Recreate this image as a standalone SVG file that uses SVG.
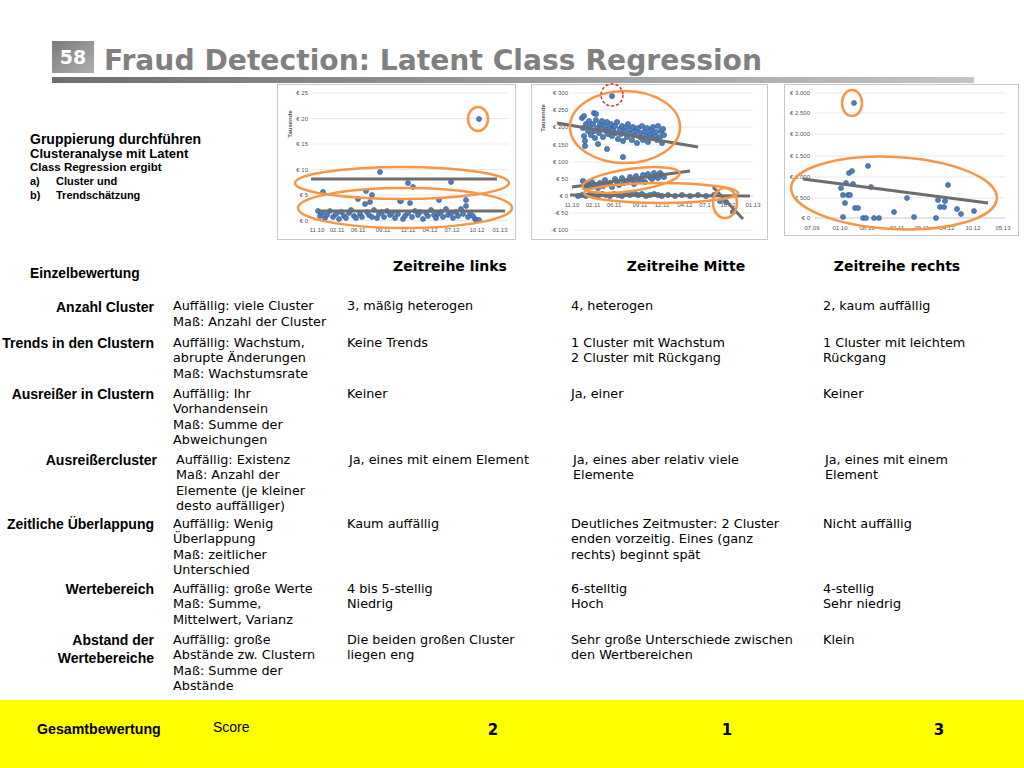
<svg xmlns="http://www.w3.org/2000/svg" width="1024" height="768" viewBox="0 0 1024 768">
<defs>
<linearGradient id="gbar" x1="0" y1="0" x2="1" y2="0"><stop offset="0" stop-color="#6e6e6e"/><stop offset="1" stop-color="#c4c4c4"/></linearGradient>
<linearGradient id="gnum" x1="0" y1="0" x2="1" y2="1"><stop offset="0" stop-color="#7a7a7a"/><stop offset="1" stop-color="#b0b0b0"/></linearGradient>
</defs>
<style>
.frame{fill:#fff;stroke:#c8c8c8;stroke-width:1}
.grid{stroke:#e2e2e2;stroke-width:0.8}
.ax{font-family:"Liberation Sans",Arial,sans-serif;font-size:6px;fill:#555}
.pt{fill:#4f81bd;stroke:#2c5596;stroke-width:0.6}
.trend{stroke:#6d6d6d;stroke-width:3;fill:none;stroke-linecap:butt}
.ring{fill:none;stroke:#f79646;stroke-width:2.5}
.red{fill:none;stroke:#e03030;stroke-width:1.5;stroke-dasharray:3 2}
.lbl{font-family:"Liberation Sans",Arial,sans-serif;font-weight:bold;font-size:14px;fill:#000;text-anchor:end}
.v{font-family:"DejaVu Sans",Verdana,sans-serif;font-size:12.8px;fill:#000}
.hd{font-family:"DejaVu Sans",Verdana,sans-serif;font-weight:bold;font-size:14px;fill:#000;text-anchor:middle}
.ab{font-family:"Liberation Sans",Arial,sans-serif;font-weight:bold;fill:#000}
</style>
<rect width="1024" height="768" fill="#fff"/>

<g id="title">
<rect x="52" y="41" width="42" height="32" fill="url(#gnum)"/>
<text x="73" y="64" text-anchor="middle" font-family="DejaVu Sans,Verdana,sans-serif" font-weight="bold" font-size="19" fill="#fff">58</text>
<text x="104" y="70" font-family="DejaVu Sans,Verdana,sans-serif" font-weight="bold" font-size="28" fill="#808080" textLength="658" lengthAdjust="spacingAndGlyphs">Fraud Detection: Latent Class Regression</text>
<rect x="52" y="77" width="922" height="6" fill="url(#gbar)"/>
</g>

<g id="chart-left">
<rect class="frame" x="277.5" y="84.5" width="238" height="155"/>
<g class="grid">
<line x1="311" y1="93" x2="508" y2="93"/><line x1="311" y1="118.5" x2="508" y2="118.5"/><line x1="311" y1="144" x2="508" y2="144"/><line x1="311" y1="169.5" x2="508" y2="169.5"/><line x1="311" y1="195" x2="508" y2="195"/><line x1="311" y1="220.5" x2="508" y2="220.5"/>
</g>
<g class="ax" text-anchor="end">
<text x="308" y="95">€ 25</text><text x="308" y="120.5">€ 20</text><text x="308" y="146">€ 15</text><text x="308" y="171.5">€ 10</text><text x="308" y="197">€ 5</text><text x="308" y="222.5">€ 0</text>
</g>
<text class="ax" transform="translate(292,124) rotate(-90)" text-anchor="middle" font-weight="bold">Tausende</text>
<g class="ax" text-anchor="middle">
<text x="317" y="232">11.10</text><text x="337" y="232">02.11</text><text x="358" y="232">06.11</text><text x="383" y="232">09.11</text><text x="408" y="232">12.11</text><text x="430" y="232">04.12</text><text x="452" y="232">07.12</text><text x="477" y="232">10.12</text><text x="500" y="232">01.13</text>
</g>
<g>
<circle class="pt" r="2.5" cx="318" cy="211"/><circle class="pt" r="2.5" cx="320" cy="216"/><circle class="pt" r="2.5" cx="322" cy="213"/><circle class="pt" r="2.5" cx="325" cy="218"/><circle class="pt" r="2.5" cx="327" cy="215"/><circle class="pt" r="2.5" cx="330" cy="211"/><circle class="pt" r="2.5" cx="333" cy="217"/><circle class="pt" r="2.5" cx="336" cy="214"/><circle class="pt" r="2.5" cx="339" cy="219"/><circle class="pt" r="2.5" cx="341" cy="212"/><circle class="pt" r="2.5" cx="344" cy="216"/><circle class="pt" r="2.5" cx="346" cy="218"/><circle class="pt" r="2.5" cx="349" cy="213"/><circle class="pt" r="2.5" cx="351" cy="210"/><circle class="pt" r="2.5" cx="354" cy="216"/><circle class="pt" r="2.5" cx="356" cy="218"/><circle class="pt" r="2.5" cx="358" cy="199"/><circle class="pt" r="2.5" cx="360" cy="214"/><circle class="pt" r="2.5" cx="362" cy="217"/><circle class="pt" r="2.5" cx="365" cy="204"/><circle class="pt" r="2.5" cx="367" cy="212"/><circle class="pt" r="2.5" cx="369" cy="215"/><circle class="pt" r="2.5" cx="372" cy="217"/><circle class="pt" r="2.5" cx="374" cy="210"/><circle class="pt" r="2.5" cx="377" cy="218"/><circle class="pt" r="2.5" cx="379" cy="214"/><circle class="pt" r="2.5" cx="382" cy="212"/><circle class="pt" r="2.5" cx="384" cy="217"/><circle class="pt" r="2.5" cx="387" cy="211"/><circle class="pt" r="2.5" cx="390" cy="215"/><circle class="pt" r="2.5" cx="392" cy="213"/><circle class="pt" r="2.5" cx="395" cy="218"/><circle class="pt" r="2.5" cx="398" cy="214"/><circle class="pt" r="2.5" cx="400" cy="201"/><circle class="pt" r="2.5" cx="403" cy="219"/><circle class="pt" r="2.5" cx="405" cy="216"/><circle class="pt" r="2.5" cx="408" cy="213"/><circle class="pt" r="2.5" cx="410" cy="203"/><circle class="pt" r="2.5" cx="412" cy="217"/><circle class="pt" r="2.5" cx="415" cy="211"/><circle class="pt" r="2.5" cx="418" cy="215"/><circle class="pt" r="2.5" cx="420" cy="212"/><circle class="pt" r="2.5" cx="423" cy="219"/><circle class="pt" r="2.5" cx="426" cy="213"/><circle class="pt" r="2.5" cx="428" cy="216"/><circle class="pt" r="2.5" cx="431" cy="210"/><circle class="pt" r="2.5" cx="434" cy="215"/><circle class="pt" r="2.5" cx="436" cy="218"/><circle class="pt" r="2.5" cx="438" cy="214"/><circle class="pt" r="2.5" cx="441" cy="212"/><circle class="pt" r="2.5" cx="443" cy="217"/><circle class="pt" r="2.5" cx="446" cy="209"/><circle class="pt" r="2.5" cx="448" cy="215"/><circle class="pt" r="2.5" cx="451" cy="213"/><circle class="pt" r="2.5" cx="453" cy="218"/><circle class="pt" r="2.5" cx="456" cy="212"/><circle class="pt" r="2.5" cx="458" cy="216"/><circle class="pt" r="2.5" cx="461" cy="209"/><circle class="pt" r="2.5" cx="463" cy="214"/><circle class="pt" r="2.5" cx="466" cy="206"/><circle class="pt" r="2.5" cx="468" cy="217"/><circle class="pt" r="2.5" cx="470" cy="213"/><circle class="pt" r="2.5" cx="473" cy="216"/><circle class="pt" r="2.5" cx="475" cy="219"/><circle class="pt" r="2.5" cx="477" cy="220"/><circle class="pt" r="2.5" cx="479" cy="220"/>
<circle class="pt" r="2.5" cx="380" cy="172"/><circle class="pt" r="2.5" cx="408" cy="183"/><circle class="pt" r="2.5" cx="413" cy="187"/><circle class="pt" r="2.5" cx="451" cy="182"/><circle class="pt" r="2.5" cx="323" cy="192"/><circle class="pt" r="2.5" cx="366" cy="191"/><circle class="pt" r="2.5" cx="372" cy="195"/><circle class="pt" r="2.5" cx="401" cy="201"/><circle class="pt" r="2.5" cx="439" cy="200"/><circle class="pt" r="2.5" cx="466" cy="200"/><circle class="pt" r="2.5" cx="370" cy="202"/><circle class="pt" r="2.5" cx="479" cy="119"/>
</g>
<line class="trend" x1="311" y1="179" x2="497" y2="179"/>
<line class="trend" x1="318" y1="211" x2="505" y2="211"/>
<ellipse class="ring" cx="402" cy="183" rx="107" ry="16"/>
<ellipse class="ring" cx="405" cy="208" rx="107" ry="20"/>
<ellipse class="ring" cx="478" cy="119" rx="10" ry="12"/>
</g>

<g id="chart-middle">
<rect class="frame" x="531.5" y="84.5" width="236" height="155"/>
<g class="grid">
<line x1="573" y1="93" x2="753" y2="93"/><line x1="573" y1="110" x2="753" y2="110"/><line x1="573" y1="127" x2="753" y2="127"/><line x1="573" y1="145" x2="753" y2="145"/><line x1="573" y1="162" x2="753" y2="162"/><line x1="573" y1="179" x2="753" y2="179"/><line x1="573" y1="196" x2="753" y2="196" stroke="#bbb"/><line x1="573" y1="213" x2="753" y2="213"/><line x1="573" y1="230" x2="753" y2="230"/>
</g>
<g class="ax" text-anchor="end">
<text x="568" y="95">€ 300</text><text x="568" y="112">€ 250</text><text x="568" y="129">€ 200</text><text x="568" y="147">€ 150</text><text x="568" y="164">€ 100</text><text x="568" y="181">€ 50</text><text x="568" y="198">€ 0</text><text x="568" y="215">-€ 50</text><text x="568" y="232">-€ 100</text>
</g>
<text class="ax" transform="translate(545,118) rotate(-90)" text-anchor="middle" font-weight="bold">Tausende</text>
<g class="ax" text-anchor="middle">
<text x="572" y="207">11.10</text><text x="593" y="207">02.11</text><text x="614" y="207">06.11</text><text x="640" y="207">09.11</text><text x="662" y="207">12.11</text><text x="685" y="207">04.12</text><text x="705" y="207">07.1</text><text x="728" y="207">10.12</text><text x="753" y="207">01.13</text>
</g>
<g>
<circle class="pt" r="2.6" cx="582" cy="118"/><circle class="pt" r="2.6" cx="583" cy="128"/><circle class="pt" r="2.6" cx="584" cy="136"/><circle class="pt" r="2.6" cx="585" cy="141"/><circle class="pt" r="2.6" cx="586" cy="124"/><circle class="pt" r="2.6" cx="588" cy="131"/><circle class="pt" r="2.6" cx="589" cy="121"/><circle class="pt" r="2.6" cx="590" cy="127"/><circle class="pt" r="2.6" cx="591" cy="135"/><circle class="pt" r="2.6" cx="593" cy="124"/><circle class="pt" r="2.6" cx="594" cy="131"/><circle class="pt" r="2.6" cx="595" cy="138"/><circle class="pt" r="2.6" cx="596" cy="120"/><circle class="pt" r="2.6" cx="597" cy="128"/><circle class="pt" r="2.6" cx="599" cy="133"/><circle class="pt" r="2.6" cx="600" cy="124"/><circle class="pt" r="2.6" cx="601" cy="129"/><circle class="pt" r="2.6" cx="602" cy="121"/><circle class="pt" r="2.6" cx="603" cy="137"/><circle class="pt" r="2.6" cx="605" cy="126"/><circle class="pt" r="2.6" cx="606" cy="131"/><circle class="pt" r="2.6" cx="607" cy="122"/><circle class="pt" r="2.6" cx="608" cy="134"/><circle class="pt" r="2.6" cx="610" cy="128"/><circle class="pt" r="2.6" cx="611" cy="124"/><circle class="pt" r="2.6" cx="612" cy="136"/><circle class="pt" r="2.6" cx="613" cy="130"/><circle class="pt" r="2.6" cx="615" cy="126"/><circle class="pt" r="2.6" cx="616" cy="133"/><circle class="pt" r="2.6" cx="617" cy="122"/><circle class="pt" r="2.6" cx="618" cy="139"/><circle class="pt" r="2.6" cx="620" cy="129"/><circle class="pt" r="2.6" cx="621" cy="134"/><circle class="pt" r="2.6" cx="622" cy="126"/><circle class="pt" r="2.6" cx="623" cy="141"/><circle class="pt" r="2.6" cx="625" cy="131"/><circle class="pt" r="2.6" cx="626" cy="127"/><circle class="pt" r="2.6" cx="627" cy="137"/><circle class="pt" r="2.6" cx="628" cy="124"/><circle class="pt" r="2.6" cx="630" cy="133"/><circle class="pt" r="2.6" cx="631" cy="129"/><circle class="pt" r="2.6" cx="632" cy="140"/><circle class="pt" r="2.6" cx="633" cy="127"/><circle class="pt" r="2.6" cx="635" cy="135"/><circle class="pt" r="2.6" cx="636" cy="131"/><circle class="pt" r="2.6" cx="637" cy="143"/><circle class="pt" r="2.6" cx="638" cy="128"/><circle class="pt" r="2.6" cx="640" cy="137"/><circle class="pt" r="2.6" cx="641" cy="133"/><circle class="pt" r="2.6" cx="642" cy="126"/><circle class="pt" r="2.6" cx="643" cy="140"/><circle class="pt" r="2.6" cx="645" cy="131"/><circle class="pt" r="2.6" cx="646" cy="136"/><circle class="pt" r="2.6" cx="647" cy="128"/><circle class="pt" r="2.6" cx="648" cy="142"/><circle class="pt" r="2.6" cx="650" cy="134"/><circle class="pt" r="2.6" cx="651" cy="130"/><circle class="pt" r="2.6" cx="652" cy="138"/><circle class="pt" r="2.6" cx="653" cy="127"/><circle class="pt" r="2.6" cx="655" cy="135"/><circle class="pt" r="2.6" cx="656" cy="132"/><circle class="pt" r="2.6" cx="657" cy="140"/><circle class="pt" r="2.6" cx="658" cy="126"/><circle class="pt" r="2.6" cx="660" cy="137"/><circle class="pt" r="2.6" cx="661" cy="131"/><circle class="pt" r="2.6" cx="662" cy="143"/><circle class="pt" r="2.6" cx="663" cy="129"/><circle class="pt" r="2.6" cx="664" cy="135"/>
<circle class="pt" r="2.6" cx="584" cy="116"/><circle class="pt" r="2.6" cx="594" cy="113"/><circle class="pt" r="2.6" cx="596" cy="114"/><circle class="pt" r="2.6" cx="585" cy="146"/><circle class="pt" r="2.6" cx="598" cy="144"/><circle class="pt" r="2.6" cx="607" cy="149"/><circle class="pt" r="2.6" cx="623" cy="157"/><circle class="pt" r="2.6" cx="612" cy="96"/>
<circle class="pt" r="2.6" cx="583" cy="181"/><circle class="pt" r="2.6" cx="585" cy="186"/><circle class="pt" r="2.6" cx="587" cy="184"/><circle class="pt" r="2.6" cx="590" cy="187"/><circle class="pt" r="2.6" cx="592" cy="182"/><circle class="pt" r="2.6" cx="595" cy="185"/><circle class="pt" r="2.6" cx="598" cy="188"/><circle class="pt" r="2.6" cx="600" cy="183"/><circle class="pt" r="2.6" cx="603" cy="186"/><circle class="pt" r="2.6" cx="605" cy="180"/><circle class="pt" r="2.6" cx="607" cy="184"/><circle class="pt" r="2.6" cx="610" cy="183"/><circle class="pt" r="2.6" cx="612" cy="187"/><circle class="pt" r="2.6" cx="615" cy="179"/><circle class="pt" r="2.6" cx="617" cy="182"/><circle class="pt" r="2.6" cx="619" cy="185"/><circle class="pt" r="2.6" cx="622" cy="178"/><circle class="pt" r="2.6" cx="624" cy="183"/><circle class="pt" r="2.6" cx="627" cy="181"/><circle class="pt" r="2.6" cx="630" cy="177"/><circle class="pt" r="2.6" cx="632" cy="180"/><circle class="pt" r="2.6" cx="634" cy="184"/><circle class="pt" r="2.6" cx="636" cy="176"/><circle class="pt" r="2.6" cx="638" cy="181"/><circle class="pt" r="2.6" cx="641" cy="179"/><circle class="pt" r="2.6" cx="643" cy="175"/><circle class="pt" r="2.6" cx="645" cy="182"/><circle class="pt" r="2.6" cx="648" cy="174"/><circle class="pt" r="2.6" cx="650" cy="177"/><circle class="pt" r="2.6" cx="652" cy="179"/><circle class="pt" r="2.6" cx="654" cy="173"/><circle class="pt" r="2.6" cx="656" cy="176"/><circle class="pt" r="2.6" cx="658" cy="178"/><circle class="pt" r="2.6" cx="660" cy="173"/><circle class="pt" r="2.6" cx="662" cy="175"/><circle class="pt" r="2.6" cx="664" cy="177"/>
<circle class="pt" r="2.6" cx="578" cy="196"/><circle class="pt" r="2.6" cx="582" cy="195"/><circle class="pt" r="2.6" cx="586" cy="196"/><circle class="pt" r="2.6" cx="590" cy="194"/><circle class="pt" r="2.6" cx="594" cy="195"/><circle class="pt" r="2.6" cx="598" cy="196"/><circle class="pt" r="2.6" cx="602" cy="194"/><circle class="pt" r="2.6" cx="606" cy="195"/><circle class="pt" r="2.6" cx="610" cy="196"/><circle class="pt" r="2.6" cx="614" cy="194"/><circle class="pt" r="2.6" cx="618" cy="195"/><circle class="pt" r="2.6" cx="622" cy="196"/><circle class="pt" r="2.6" cx="626" cy="194"/><circle class="pt" r="2.6" cx="630" cy="195"/><circle class="pt" r="2.6" cx="634" cy="193"/><circle class="pt" r="2.6" cx="638" cy="195"/><circle class="pt" r="2.6" cx="642" cy="194"/><circle class="pt" r="2.6" cx="646" cy="196"/><circle class="pt" r="2.6" cx="650" cy="195"/><circle class="pt" r="2.6" cx="654" cy="194"/><circle class="pt" r="2.6" cx="658" cy="195"/><circle class="pt" r="2.6" cx="662" cy="196"/><circle class="pt" r="2.6" cx="668" cy="195"/><circle class="pt" r="2.6" cx="675" cy="196"/><circle class="pt" r="2.6" cx="682" cy="195"/><circle class="pt" r="2.6" cx="690" cy="196"/><circle class="pt" r="2.6" cx="698" cy="195"/><circle class="pt" r="2.6" cx="706" cy="196"/><circle class="pt" r="2.6" cx="714" cy="195"/>
<circle class="pt" r="2.6" cx="720" cy="201"/><circle class="pt" r="2.6" cx="726" cy="202"/><circle class="pt" r="2.6" cx="733" cy="212"/>
</g>
<line class="trend" x1="557" y1="123" x2="698" y2="147"/>
<line class="trend" x1="572" y1="187" x2="690" y2="171"/>
<line class="trend" x1="570" y1="195" x2="750" y2="196"/>
<line class="trend" x1="713" y1="187" x2="743" y2="219"/>
<ellipse class="ring" cx="625" cy="127" rx="55" ry="36"/>
<ellipse class="ring" cx="631" cy="180" rx="49" ry="11" transform="rotate(-8 631 180)"/>
<ellipse class="ring" cx="661" cy="193" rx="77" ry="10"/>
<ellipse class="ring" cx="725" cy="203" rx="12" ry="15"/>
<circle class="red" cx="612" cy="95" r="11"/>
</g>

<g id="chart-right">
<rect class="frame" x="784.5" y="84.5" width="234" height="151"/>
<g class="grid">
<line x1="815" y1="93" x2="1005" y2="93"/><line x1="815" y1="113" x2="1005" y2="113"/><line x1="815" y1="134" x2="1005" y2="134"/><line x1="815" y1="156" x2="1005" y2="156"/><line x1="815" y1="177" x2="1005" y2="177"/><line x1="815" y1="198" x2="1005" y2="198"/><line x1="815" y1="218" x2="1005" y2="218" stroke="#bbb"/>
</g>
<g class="ax" text-anchor="end">
<text x="810" y="95">€ 3.000</text><text x="810" y="115">€ 2.500</text><text x="810" y="136">€ 2.000</text><text x="810" y="158">€ 1.500</text><text x="810" y="179">€ 1.000</text><text x="810" y="200">€ 500</text><text x="810" y="220">€ 0</text>
</g>
<g class="ax" text-anchor="middle">
<text x="812" y="230">07.09</text><text x="840" y="230">01.10</text><text x="867" y="230">08.10</text><text x="897" y="230">02.11</text><text x="922" y="230">09.11</text><text x="947" y="230">04.12</text><text x="973" y="230">10.12</text><text x="1003" y="230">05.13</text>
</g>
<g>
<circle class="pt" r="2.5" cx="843" cy="217"/><circle class="pt" r="2.5" cx="841" cy="188"/><circle class="pt" r="2.5" cx="843" cy="195"/><circle class="pt" r="2.5" cx="845" cy="203"/><circle class="pt" r="2.5" cx="846" cy="183"/><circle class="pt" r="2.5" cx="848" cy="195"/><circle class="pt" r="2.5" cx="850" cy="195"/><circle class="pt" r="2.5" cx="849" cy="173"/><circle class="pt" r="2.5" cx="852" cy="171"/><circle class="pt" r="2.5" cx="853" cy="184"/><circle class="pt" r="2.5" cx="855" cy="208"/><circle class="pt" r="2.5" cx="858" cy="208"/><circle class="pt" r="2.5" cx="854" cy="103"/><circle class="pt" r="2.5" cx="863" cy="218"/><circle class="pt" r="2.5" cx="866" cy="218"/><circle class="pt" r="2.5" cx="868" cy="166"/><circle class="pt" r="2.5" cx="871" cy="187"/><circle class="pt" r="2.5" cx="874" cy="218"/><circle class="pt" r="2.5" cx="879" cy="218"/><circle class="pt" r="2.5" cx="894" cy="212"/><circle class="pt" r="2.5" cx="907" cy="198"/><circle class="pt" r="2.5" cx="914" cy="217"/><circle class="pt" r="2.5" cx="936" cy="218"/><circle class="pt" r="2.5" cx="938" cy="200"/><circle class="pt" r="2.5" cx="940" cy="207"/><circle class="pt" r="2.5" cx="944" cy="207"/><circle class="pt" r="2.5" cx="945" cy="201"/><circle class="pt" r="2.5" cx="948" cy="185"/><circle class="pt" r="2.5" cx="957" cy="209"/><circle class="pt" r="2.5" cx="961" cy="214"/><circle class="pt" r="2.5" cx="974" cy="211"/>
</g>
<line class="trend" x1="803" y1="179" x2="988" y2="203"/>
<ellipse class="ring" cx="894" cy="193" rx="103" ry="36" transform="rotate(3 894 193)"/>
<ellipse class="ring" cx="852" cy="103" rx="10" ry="13"/>
</g>

<g id="intro">
<text class="ab" x="30" y="144" font-size="14">Gruppierung durchführen</text>
<text class="ab" x="30" y="158" font-size="13">Clusteranalyse mit Latent</text>
<text class="ab" x="30" y="171" font-size="11.5">Class Regression ergibt</text>
<text class="ab" x="30" y="185" font-size="11">a)</text><text class="ab" x="56" y="185" font-size="11">Cluster und</text>
<text class="ab" x="30" y="199" font-size="11">b)</text><text class="ab" x="56" y="199" font-size="11">Trendschätzung</text>
</g>

<g id="header">
<text class="ab" x="30" y="278" font-size="13.8">Einzelbewertung</text>
<text class="hd" x="450" y="271">Zeitreihe links</text>
<text class="hd" x="686" y="271">Zeitreihe Mitte</text>
<text class="hd" x="897" y="271">Zeitreihe rechts</text>
</g>

<g id="row-anzahl">
<text class="lbl" x="154" y="312">Anzahl Cluster</text>
<text class="v" x="173" y="310">Auffällig: viele Cluster</text><text class="v" x="173" y="326">Maß: Anzahl der Cluster</text>
<text class="v" x="347" y="310">3, mäßig heterogen</text>
<text class="v" x="571" y="310">4, heterogen</text>
<text class="v" x="823" y="310">2, kaum auffällig</text>
</g>
<g id="row-trends">
<text class="lbl" x="154" y="348">Trends in den Clustern</text>
<text class="v" x="173" y="347">Auffällig:  Wachstum,</text><text class="v" x="173" y="362">abrupte Änderungen</text><text class="v" x="173" y="378">Maß: Wachstumsrate</text>
<text class="v" x="347" y="347">Keine Trends</text>
<text class="v" x="571" y="347">1 Cluster mit Wachstum</text><text class="v" x="571" y="362">2 Cluster mit Rückgang</text>
<text class="v" x="823" y="347">1 Cluster mit leichtem</text><text class="v" x="823" y="362">Rückgang</text>
</g>
<g id="row-ausreisser">
<text class="lbl" x="154" y="399">Ausreißer in Clustern</text>
<text class="v" x="173" y="398">Auffällig: Ihr</text><text class="v" x="173" y="413">Vorhandensein</text><text class="v" x="173" y="429">Maß: Summe der</text><text class="v" x="173" y="444">Abweichungen</text>
<text class="v" x="347" y="398">Keiner</text>
<text class="v" x="571" y="398">Ja, einer</text>
<text class="v" x="823" y="398">Keiner</text>
</g>
<g id="row-ausreissercluster">
<text class="lbl" x="157" y="465">Ausreißercluster</text>
<text class="v" x="176" y="464">Auffällig: Existenz</text><text class="v" x="176" y="479">Maß: Anzahl der</text><text class="v" x="176" y="495">Elemente (je kleiner</text><text class="v" x="176" y="510">desto auffälliger)</text>
<text class="v" x="349" y="464">Ja, eines mit einem Element</text>
<text class="v" x="573" y="464">Ja, eines aber relativ viele</text><text class="v" x="573" y="479">Elemente</text>
<text class="v" x="825" y="464">Ja, eines mit einem</text><text class="v" x="825" y="479">Element</text>
</g>
<g id="row-zeit">
<text class="lbl" x="154" y="529">Zeitliche Überlappung</text>
<text class="v" x="173" y="528">Auffällig: Wenig</text><text class="v" x="173" y="543">Überlappung</text><text class="v" x="173" y="559">Maß: zeitlicher</text><text class="v" x="173" y="574">Unterschied</text>
<text class="v" x="347" y="528">Kaum auffällig</text>
<text class="v" x="571" y="528">Deutliches Zeitmuster: 2 Cluster</text><text class="v" x="571" y="543">enden vorzeitig. Eines (ganz</text><text class="v" x="571" y="559">rechts) beginnt spät</text>
<text class="v" x="823" y="528">Nicht auffällig</text>
</g>
<g id="row-werte">
<text class="lbl" x="154" y="594">Wertebereich</text>
<text class="v" x="173" y="593">Auffällig: große Werte</text><text class="v" x="173" y="608">Maß: Summe,</text><text class="v" x="173" y="624">Mittelwert, Varianz</text>
<text class="v" x="347" y="593">4 bis 5-stellig</text><text class="v" x="347" y="608">Niedrig</text>
<text class="v" x="571" y="593">6-stelltig</text><text class="v" x="571" y="608">Hoch</text>
<text class="v" x="823" y="593">4-stellig</text><text class="v" x="823" y="608">Sehr niedrig</text>
</g>
<g id="row-abstand">
<text class="lbl" x="154" y="645">Abstand der</text><text class="lbl" x="154" y="663">Wertebereiche</text>
<text class="v" x="173" y="644">Auffällig: große</text><text class="v" x="173" y="659">Abstände zw. Clustern</text><text class="v" x="173" y="675">Maß: Summe der</text><text class="v" x="173" y="690">Abstände</text>
<text class="v" x="347" y="644">Die beiden großen Cluster</text><text class="v" x="347" y="659">liegen eng</text>
<text class="v" x="571" y="644">Sehr große Unterschiede zwischen</text><text class="v" x="571" y="659">den Wertbereichen</text>
<text class="v" x="823" y="644">Klein</text>
</g>

<g id="gesamt">
<rect x="0" y="700" width="1024" height="68" fill="#ffff00"/>
<text class="ab" x="37" y="734" font-size="14.2">Gesamtbewertung</text>
<text x="213" y="732" font-family="Liberation Sans,Arial,sans-serif" font-size="14" fill="#000">Score</text>
<g font-family="DejaVu Sans,Verdana,sans-serif" font-weight="bold" font-size="15" fill="#000" text-anchor="middle">
<text x="493" y="735">2</text><text x="727" y="735">1</text><text x="939" y="735">3</text>
</g>
</g>
</svg>
